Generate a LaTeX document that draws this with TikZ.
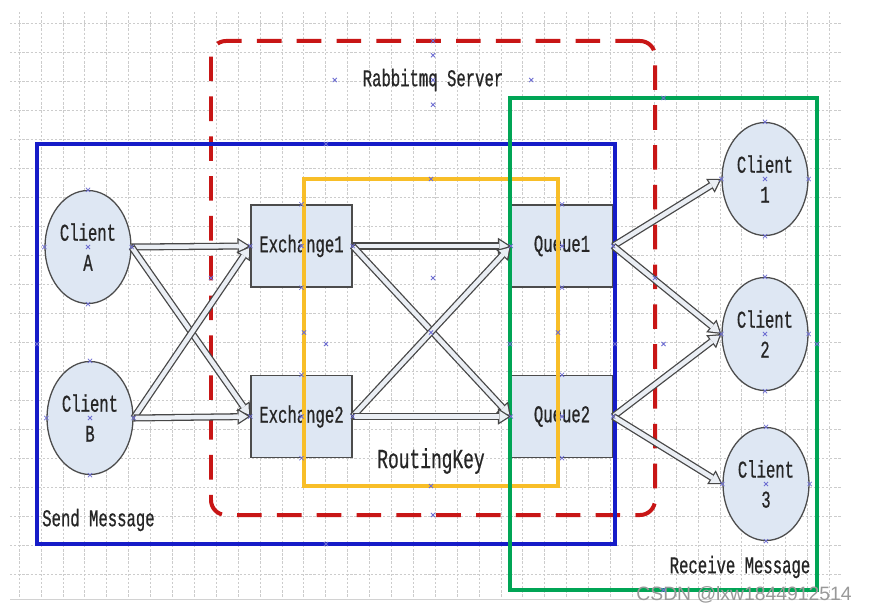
\documentclass[tikz,border=0pt]{standalone}
\usepackage{fontspec}
\usepackage{tikz}
\usetikzlibrary{
  arrows.meta,
  shapes.geometric,
  positioning
}
\newfontfamily\diagfont[FakeStretch=0.65, FakeBold=0.6]{Liberation Mono}
\newfontfamily\wmfont{Liberation Sans}
\definecolor{ServerRed}  {RGB}{200,22,22}
\definecolor{SendBlue}   {RGB}{22,28,200}
\definecolor{RouteYellow}{RGB}{248,190,40}
\definecolor{RecvGreen}  {RGB}{0,165,85}
\definecolor{NodeFill}   {RGB}{222,231,243}
\definecolor{ArrowFill}  {RGB}{234,238,244}
\definecolor{MarkBlue}   {RGB}{110,110,210}

\begin{document}
\begin{tikzpicture}[
  x=0.03cm, y=-0.03cm,
  txt/.style={font=\diagfont\fontsize{20.5}{25.6}\selectfont, text=black!85},
  client/.style={ellipse, draw=black!70, line width=1.1pt, fill=NodeFill,
                 minimum width=2.58cm, minimum height=3.39cm, inner sep=0pt,
                 align=center, txt},
  box/.style={rectangle, draw=black!70, line width=1.1pt, fill=NodeFill,
              minimum width=3.03cm, minimum height=2.46cm, inner sep=0pt,
              align=center, txt},
  frame/.style={rectangle, inner sep=0pt, outer sep=0pt, line width=2.6pt},
  arr/.style={line width=6pt, draw=black!72,
              -{Triangle[length=11pt, width=14pt, line width=0pt]},
              postaction={draw=ArrowFill, line width=3.8pt,
                          shorten <=1.1pt, shorten >=2.05pt,
                          -{Triangle[length=7.85pt, width=10pt, line width=0pt]}}},
  gridline/.style={gray!40, line width=0.5pt, dash pattern=on 2pt off 1.5pt},
  marks/.style={MarkBlue, line width=0.7pt},
  lbl/.style={txt, inner sep=0pt}
]
\useasboundingbox (0,0) rectangle (869,612);
\fill[white] (0,0) rectangle (869,612);

% background grid
\foreach \gx in {0,...,37}
  \draw[gridline] ({19+21.9*\gx},12) -- ({19+21.9*\gx},598);
\foreach \gy in {0,...,19}
  \draw[gridline] (10,{23+29*\gy}) -- (842,{23+29*\gy});
\draw[gray!35, line width=0.8pt] (10,599) -- (842,599);

% clients and exchanges
\node[client] (cla) at (88,247)  {Client\\A};
\node[client] (clb) at (90,418)  {Client\\B};
\node[box]    (ex1) at (301.5,246)   {Exchange1};
\node[box]    (ex2) at (301.5,416.5) {Exchange2};
\node[box]    (q1)  at (562,246)     {Queue1};
\node[box]    (q2)  at (562,416.5)   {Queue2};
\node[client] (c1)  at (765,179) {Client\\1};
\node[client] (c2)  at (765,334) {Client\\2};
\node[client] (c3)  at (766,484) {Client\\3};

% frames
\node[frame, draw=ServerRed, line width=3.4pt, rounded corners=0.45cm,
      dash pattern=on 21pt off 13pt,
      minimum width=13.32cm, minimum height=14.22cm] (srv)   at (433,278) {};
\node[frame, draw=SendBlue,
      minimum width=17.34cm, minimum height=12.0cm]  (send)  at (326,344) {};
\node[frame, draw=RouteYellow, line width=3pt,
      minimum width=7.62cm, minimum height=9.21cm]   (route) at (431,332.5) {};
\node[frame, draw=RecvGreen, line width=3pt,
      minimum width=9.21cm, minimum height=14.76cm]  (recv)  at (663.5,344) {};

% messages
\draw[arr] (cla.east) -- (ex1.west);
\draw[arr] (cla.east) -- (ex2.west);
\draw[arr] (clb.east) -- (ex1.west);
\draw[arr] (clb.east) -- (ex2.west);
\draw[arr] (ex1.east) -- (q1.west);
\draw[arr] (ex1.east) -- (q2.west);
\draw[arr] (ex2.east) -- (q1.west);
\draw[arr] (ex2.east) -- (q2.west);
\draw[arr] (q1.east)  -- (c1.west);
\draw[arr] (q1.east)  -- (c2.west);
\draw[arr] (q2.east)  -- (c2.west);
\draw[arr] (q2.east)  -- (c3.west);

% labels
\node[lbl, minimum width=5.88cm, minimum height=1.47cm] (title) at (433,80)
     {Rabbitmq Server};
\node[lbl, font=\diagfont\fontsize{23.5}{28}\selectfont] (rkey) at (431,461)
     {RoutingKey};
\node[lbl, anchor=west] (sendlbl) at (42,520) {Send Message};
\node[lbl] (recvlbl) at (740,567) {Receive Message};
\node[font=\wmfont\fontsize{16.5}{18}\selectfont, text=gray!80, inner sep=0pt]
     (wm) at (744,595) {CSDN @lxw1844912514};

% connection points
\foreach \n in {cla,clb,ex1,ex2,q1,q2,c1,c2,c3,srv,send,route,recv,title}
  \draw[marks] plot[only marks, mark=x, mark size=2.5pt]
    coordinates {(\n.north) (\n.south) (\n.east) (\n.west) (\n.center)};

\end{tikzpicture}
\end{document}
